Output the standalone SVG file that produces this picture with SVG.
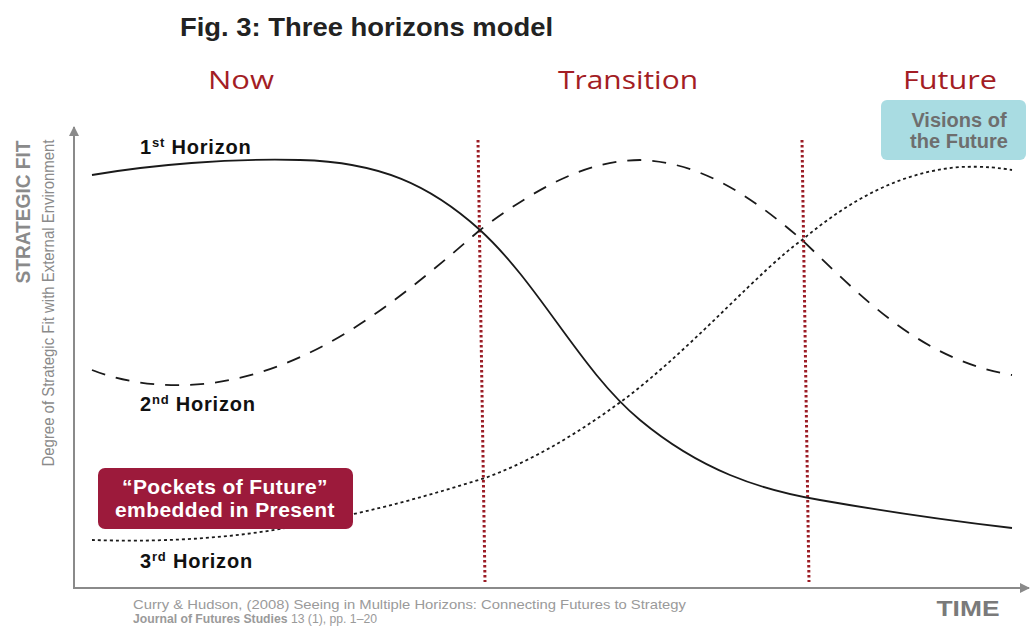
<svg xmlns="http://www.w3.org/2000/svg" width="1032" height="626" viewBox="0 0 1032 626">
<style>
.t{font-family:"Liberation Sans",Arial,sans-serif}
.era{font-family:"Open Sans","Liberation Sans",sans-serif;font-size:26px;fill:#a31d24;text-anchor:middle}
.hz{font-family:"Liberation Sans",Arial,sans-serif;font-size:20px;font-weight:bold;fill:#111;letter-spacing:0.8px}
.axis{stroke:#8a8a8a;stroke-width:2;fill:none}
.sep{stroke:#9b1c25;stroke-width:3;stroke-dasharray:2.5 2.5;fill:none}
.h1{stroke:#1a1a1a;stroke-width:1.8;fill:none}
.h2{stroke:#1a1a1a;stroke-width:1.8;fill:none;stroke-dasharray:14 11}
.h3{stroke:#1a1a1a;stroke-width:1.8;fill:none;stroke-dasharray:3 3}
</style>
<defs>
<marker id="ah" viewBox="0 0 10 10" refX="9" refY="5" markerWidth="5" markerHeight="5" orient="auto" markerUnits="strokeWidth">
<path d="M0,0 L10,5 L0,10 z" fill="#8a8a8a"/>
</marker>
</defs>
<rect width="1032" height="626" fill="#ffffff"/>
<text class="t" x="180" y="36" font-size="26" font-weight="bold" fill="#222" textLength="373" lengthAdjust="spacingAndGlyphs">Fig. 3: Three horizons model</text>
<g id="eras">
<text class="era" x="241" y="89" textLength="66" lengthAdjust="spacingAndGlyphs">Now</text>
<text class="era" x="628" y="89" textLength="140" lengthAdjust="spacingAndGlyphs">Transition</text>
<text class="era" x="950" y="89" textLength="94" lengthAdjust="spacingAndGlyphs">Future</text>
</g>
<g id="axes">
<line class="axis" x1="74" y1="588" x2="74" y2="127" marker-end="url(#ah)"/>
<line class="axis" x1="73" y1="588" x2="1029" y2="588" marker-end="url(#ah)"/>
<text class="t" transform="translate(30,212) rotate(-90)" text-anchor="middle" font-size="20" font-weight="bold" fill="#8a8a8a" textLength="143" lengthAdjust="spacingAndGlyphs">STRATEGIC FIT</text>
<text class="t" transform="translate(54,303) rotate(-90)" text-anchor="middle" font-size="16" fill="#8a8a8a" textLength="327" lengthAdjust="spacingAndGlyphs">Degree of Strategic Fit with External Environment</text>
<text class="t" x="968" y="616" text-anchor="middle" font-size="22" font-weight="bold" fill="#7a7a7a" textLength="63" lengthAdjust="spacingAndGlyphs">TIME</text>
</g>
<g id="connectors">
<line class="sep" x1="478" y1="140" x2="485" y2="582"/>
<line class="sep" x1="802" y1="140" x2="809" y2="582"/>
<path id="horizon1" class="h1" d="M92,175 C150,165 230,158 300,160 C380,162 430,185 480,230 C540,285 580,370 640,420 C700,470 760,490 820,500 C900,514 960,522 1012,528"/>
<path id="horizon2" class="h2" d="M92,370 C130,385 180,390 230,380 C330,360 410,290 480,230 C540,185 590,160 640,160 C700,162 750,195 802,240 C860,295 920,360 1012,375"/>
<path id="horizon3" class="h3" d="M92,540 C150,542 230,540 300,525 C380,510 430,495 485,478 C540,458 590,425 630,395 C700,340 760,270 802,240 C850,200 900,172 960,167 C985,166 1000,168 1012,170"/>
</g>
<g id="h1label"><text class="hz" x="140" y="154">1<tspan font-size="13" dy="-7">st</tspan><tspan dy="7"> Horizon</tspan></text></g>
<g id="h2label"><text class="hz" x="140" y="411">2<tspan font-size="13" dy="-7">nd</tspan><tspan dy="7"> Horizon</tspan></text></g>
<g id="h3label"><text class="hz" x="140" y="568">3<tspan font-size="13" dy="-7">rd</tspan><tspan dy="7"> Horizon</tspan></text></g>
<g id="pockets">
<rect x="98" y="468" width="255" height="61" rx="7" fill="#9c1a3b"/>
<text class="t" x="225" y="494" text-anchor="middle" font-size="21" font-weight="bold" fill="#fff" letter-spacing="0.4">“Pockets of Future”</text>
<text class="t" x="225" y="517" text-anchor="middle" font-size="21" font-weight="bold" fill="#fff" letter-spacing="0.4">embedded in Present</text>
</g>
<g id="visions">
<rect x="881" y="100" width="145" height="60" rx="6" fill="#a9dce2"/>
<text class="t" x="959" y="127" text-anchor="middle" font-size="20" font-weight="bold" fill="#6e6e6e">Visions of</text>
<text class="t" x="959" y="148" text-anchor="middle" font-size="20" font-weight="bold" fill="#6e6e6e">the Future</text>
</g>
<g id="citation">
<text class="t" x="133" y="609" font-size="13" fill="#9a9a9a" textLength="553" lengthAdjust="spacingAndGlyphs">Curry &amp; Hudson, (2008) Seeing in Multiple Horizons: Connecting Futures to Strategy</text>
<text class="t" x="133" y="623" font-size="12.5" fill="#9a9a9a" textLength="244" lengthAdjust="spacingAndGlyphs"><tspan font-weight="bold">Journal of Futures Studies</tspan> 13 (1), pp. 1–20</text>
</g>
</svg>
